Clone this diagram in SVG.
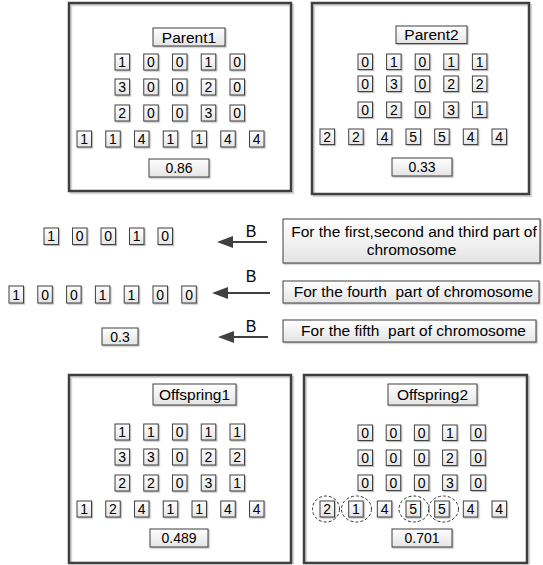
<svg xmlns="http://www.w3.org/2000/svg" width="543" height="565" viewBox="0 0 543 565">
<defs>
<linearGradient id="cg" x1="0" y1="0" x2="0" y2="1"><stop offset="0" stop-color="#ffffff"/><stop offset="1" stop-color="#e4e4e4"/></linearGradient>
<filter id="sh" x="-20%" y="-20%" width="150%" height="150%"><feDropShadow dx="1.2" dy="1.2" stdDeviation="0.5" flood-color="#000" flood-opacity="0.25"/></filter>
<marker id="ah" markerWidth="16" markerHeight="12" refX="8" refY="6" orient="auto" markerUnits="userSpaceOnUse"><path d="M0,0 L16,6 L0,12 z" fill="#404040"/></marker>
</defs>
<style>
.box{fill:none;stroke:#3f3f3f;stroke-width:2.5}
.boxsh{fill:none;stroke:#d6d6d6;stroke-width:2.5}
.cell{fill:url(#cg);stroke:#3f3f3f;stroke-width:1;filter:url(#sh)}
.t{font-family:"Liberation Sans",Arial,sans-serif;fill:#000;text-anchor:middle}
.d{font-size:14px}
.l{font-size:15.5px}
.b{font-size:16px}
.ell{fill:none;stroke:#333;stroke-width:1;stroke-dasharray:3 2}
.con{stroke:#404040;stroke-width:2;fill:none;marker-end:url(#ah)}
</style>
<rect width="543" height="565" fill="#fff"/>

<g id="parent1">
<rect class="boxsh" x="71" y="5" width="222" height="188"/>
<rect class="box" x="69" y="3" width="222" height="188"/>
<rect class="cell" x="153" y="28" width="72" height="18"/><text class="t l" x="189" y="42.5">Parent1</text>
<rect class="cell" x="115" y="54" width="14.5" height="16"/><text class="t d" x="122.25" y="67">1</text>
<rect class="cell" x="143.75" y="54" width="14.5" height="16"/><text class="t d" x="151" y="67">0</text>
<rect class="cell" x="172.5" y="54" width="14.5" height="16"/><text class="t d" x="179.75" y="67">0</text>
<rect class="cell" x="201.25" y="54" width="14.5" height="16"/><text class="t d" x="208.5" y="67">1</text>
<rect class="cell" x="230" y="54" width="14.5" height="16"/><text class="t d" x="237.25" y="67">0</text>
<rect class="cell" x="115" y="79" width="14.5" height="16"/><text class="t d" x="122.25" y="92">3</text>
<rect class="cell" x="143.75" y="79" width="14.5" height="16"/><text class="t d" x="151" y="92">0</text>
<rect class="cell" x="172.5" y="79" width="14.5" height="16"/><text class="t d" x="179.75" y="92">0</text>
<rect class="cell" x="201.25" y="79" width="14.5" height="16"/><text class="t d" x="208.5" y="92">2</text>
<rect class="cell" x="230" y="79" width="14.5" height="16"/><text class="t d" x="237.25" y="92">0</text>
<rect class="cell" x="115" y="105" width="14.5" height="16"/><text class="t d" x="122.25" y="118">2</text>
<rect class="cell" x="143.75" y="105" width="14.5" height="16"/><text class="t d" x="151" y="118">0</text>
<rect class="cell" x="172.5" y="105" width="14.5" height="16"/><text class="t d" x="179.75" y="118">0</text>
<rect class="cell" x="201.25" y="105" width="14.5" height="16"/><text class="t d" x="208.5" y="118">3</text>
<rect class="cell" x="230" y="105" width="14.5" height="16"/><text class="t d" x="237.25" y="118">0</text>
<rect class="cell" x="77" y="131" width="14.5" height="16"/><text class="t d" x="84.25" y="144">1</text>
<rect class="cell" x="105.75" y="131" width="14.5" height="16"/><text class="t d" x="113" y="144">1</text>
<rect class="cell" x="134.5" y="131" width="14.5" height="16"/><text class="t d" x="141.75" y="144">4</text>
<rect class="cell" x="163.25" y="131" width="14.5" height="16"/><text class="t d" x="170.5" y="144">1</text>
<rect class="cell" x="192" y="131" width="14.5" height="16"/><text class="t d" x="199.25" y="144">1</text>
<rect class="cell" x="220.75" y="131" width="14.5" height="16"/><text class="t d" x="228" y="144">4</text>
<rect class="cell" x="249.5" y="131" width="14.5" height="16"/><text class="t d" x="256.75" y="144">4</text>
<rect class="cell" x="149" y="159" width="60" height="18"/><text class="t d" x="179" y="173">0.86</text>
</g>

<g id="parent2">
<rect class="boxsh" x="314" y="5" width="217" height="191"/>
<rect class="box" x="312" y="3" width="217" height="191"/>
<rect class="cell" x="396" y="26" width="71" height="17.5"/><text class="t l" x="431.5" y="40">Parent2</text>
<rect class="cell" x="358" y="54" width="14.5" height="15.5"/><text class="t d" x="365.25" y="67">0</text>
<rect class="cell" x="386.6" y="54" width="14.5" height="15.5"/><text class="t d" x="393.85" y="67">1</text>
<rect class="cell" x="415.2" y="54" width="14.5" height="15.5"/><text class="t d" x="422.45" y="67">0</text>
<rect class="cell" x="443.8" y="54" width="14.5" height="15.5"/><text class="t d" x="451.05" y="67">1</text>
<rect class="cell" x="472.4" y="54" width="14.5" height="15.5"/><text class="t d" x="479.65" y="67">1</text>
<rect class="cell" x="358" y="76" width="14.5" height="15.5"/><text class="t d" x="365.25" y="89">0</text>
<rect class="cell" x="386.6" y="76" width="14.5" height="15.5"/><text class="t d" x="393.85" y="89">3</text>
<rect class="cell" x="415.2" y="76" width="14.5" height="15.5"/><text class="t d" x="422.45" y="89">0</text>
<rect class="cell" x="443.8" y="76" width="14.5" height="15.5"/><text class="t d" x="451.05" y="89">2</text>
<rect class="cell" x="472.4" y="76" width="14.5" height="15.5"/><text class="t d" x="479.65" y="89">2</text>
<rect class="cell" x="358" y="102" width="14.5" height="15.5"/><text class="t d" x="365.25" y="115">0</text>
<rect class="cell" x="386.6" y="102" width="14.5" height="15.5"/><text class="t d" x="393.85" y="115">2</text>
<rect class="cell" x="415.2" y="102" width="14.5" height="15.5"/><text class="t d" x="422.45" y="115">0</text>
<rect class="cell" x="443.8" y="102" width="14.5" height="15.5"/><text class="t d" x="451.05" y="115">3</text>
<rect class="cell" x="472.4" y="102" width="14.5" height="15.5"/><text class="t d" x="479.65" y="115">1</text>
<rect class="cell" x="320" y="129" width="14.5" height="15.5"/><text class="t d" x="327.25" y="142">2</text>
<rect class="cell" x="348.7" y="129" width="14.5" height="15.5"/><text class="t d" x="355.95" y="142">2</text>
<rect class="cell" x="377.3" y="129" width="14.5" height="15.5"/><text class="t d" x="384.55" y="142">4</text>
<rect class="cell" x="406" y="129" width="14.5" height="15.5"/><text class="t d" x="413.25" y="142">5</text>
<rect class="cell" x="434.7" y="129" width="14.5" height="15.5"/><text class="t d" x="441.95" y="142">5</text>
<rect class="cell" x="463.3" y="129" width="14.5" height="15.5"/><text class="t d" x="470.55" y="142">4</text>
<rect class="cell" x="492" y="129" width="14.5" height="15.5"/><text class="t d" x="499.25" y="142">4</text>
<rect class="cell" x="392" y="158" width="60" height="18"/><text class="t d" x="422" y="172">0.33</text>
</g>

<g id="rowA">
<rect class="cell" x="44" y="228" width="14.5" height="16.5"/><text class="t d" x="51.25" y="241">1</text>
<rect class="cell" x="72.5" y="228" width="14.5" height="16.5"/><text class="t d" x="79.75" y="241">0</text>
<rect class="cell" x="101" y="228" width="14.5" height="16.5"/><text class="t d" x="108.25" y="241">0</text>
<rect class="cell" x="129.5" y="228" width="14.5" height="16.5"/><text class="t d" x="136.75" y="241">1</text>
<rect class="cell" x="158" y="228" width="14.5" height="16.5"/><text class="t d" x="165.25" y="241">0</text>
</g>

<g id="rowB">
<rect class="cell" x="9" y="286" width="14.5" height="17"/><text class="t d" x="16.25" y="299.5">1</text>
<rect class="cell" x="37.8" y="286" width="14.5" height="17"/><text class="t d" x="45.05" y="299.5">0</text>
<rect class="cell" x="66.6" y="286" width="14.5" height="17"/><text class="t d" x="73.85" y="299.5">0</text>
<rect class="cell" x="95.4" y="286" width="14.5" height="17"/><text class="t d" x="102.65" y="299.5">1</text>
<rect class="cell" x="124.2" y="286" width="14.5" height="17"/><text class="t d" x="131.45" y="299.5">1</text>
<rect class="cell" x="153" y="286" width="14.5" height="17"/><text class="t d" x="160.25" y="299.5">0</text>
<rect class="cell" x="181.8" y="286" width="14.5" height="17"/><text class="t d" x="189.05" y="299.5">0</text>
</g>

<g id="valueB">
<rect class="cell" x="102" y="328" width="36" height="17"/><text class="t d" x="120" y="341.5">0.3</text>
</g>

<g id="note1">
<rect class="cell" x="283" y="219" width="257" height="44"/>
<text class="t l" x="414" y="236.5">For the first,second and third part of</text>
<text class="t l" x="411.5" y="255">chromosome</text>
</g>
<g id="note2">
<rect class="cell" x="283" y="281" width="256" height="22"/>
<text class="t l" x="413.5" y="296.5" xml:space="preserve">For the fourth  part of chromosome</text>
</g>
<g id="note3">
<rect class="cell" x="283" y="320" width="253" height="22"/>
<text class="t l" x="413.5" y="335.5" xml:space="preserve">For the fifth  part of chromosome</text>
</g>

<g id="connectors">
<line class="con" x1="267" y1="242" x2="225" y2="242"/>
<line class="con" x1="270" y1="293" x2="220" y2="293"/>
<line class="con" x1="268" y1="337" x2="226" y2="337"/>
<text class="t b" x="251" y="237">B</text>
<text class="t b" x="251" y="282">B</text>
<text class="t b" x="251" y="332">B</text>
</g>

<g id="offspring1">
<rect class="boxsh" x="71" y="377" width="222" height="186"/>
<rect class="box" x="69" y="375" width="222" height="188"/>
<rect class="cell" x="153" y="384" width="83" height="21"/><text class="t l" x="194.5" y="400">Offspring1</text>
<rect class="cell" x="115" y="424" width="14.5" height="16"/><text class="t d" x="122.25" y="437">1</text>
<rect class="cell" x="143.75" y="424" width="14.5" height="16"/><text class="t d" x="151" y="437">1</text>
<rect class="cell" x="172.5" y="424" width="14.5" height="16"/><text class="t d" x="179.75" y="437">0</text>
<rect class="cell" x="201.25" y="424" width="14.5" height="16"/><text class="t d" x="208.5" y="437">1</text>
<rect class="cell" x="230" y="424" width="14.5" height="16"/><text class="t d" x="237.25" y="437">1</text>
<rect class="cell" x="115" y="449" width="14.5" height="16"/><text class="t d" x="122.25" y="462">3</text>
<rect class="cell" x="143.75" y="449" width="14.5" height="16"/><text class="t d" x="151" y="462">3</text>
<rect class="cell" x="172.5" y="449" width="14.5" height="16"/><text class="t d" x="179.75" y="462">0</text>
<rect class="cell" x="201.25" y="449" width="14.5" height="16"/><text class="t d" x="208.5" y="462">2</text>
<rect class="cell" x="230" y="449" width="14.5" height="16"/><text class="t d" x="237.25" y="462">2</text>
<rect class="cell" x="115" y="475" width="14.5" height="16"/><text class="t d" x="122.25" y="488">2</text>
<rect class="cell" x="143.75" y="475" width="14.5" height="16"/><text class="t d" x="151" y="488">2</text>
<rect class="cell" x="172.5" y="475" width="14.5" height="16"/><text class="t d" x="179.75" y="488">0</text>
<rect class="cell" x="201.25" y="475" width="14.5" height="16"/><text class="t d" x="208.5" y="488">3</text>
<rect class="cell" x="230" y="475" width="14.5" height="16"/><text class="t d" x="237.25" y="488">1</text>
<rect class="cell" x="77" y="501" width="14.5" height="16"/><text class="t d" x="84.25" y="514">1</text>
<rect class="cell" x="105.75" y="501" width="14.5" height="16"/><text class="t d" x="113" y="514">2</text>
<rect class="cell" x="134.5" y="501" width="14.5" height="16"/><text class="t d" x="141.75" y="514">4</text>
<rect class="cell" x="163.25" y="501" width="14.5" height="16"/><text class="t d" x="170.5" y="514">1</text>
<rect class="cell" x="192" y="501" width="14.5" height="16"/><text class="t d" x="199.25" y="514">1</text>
<rect class="cell" x="220.75" y="501" width="14.5" height="16"/><text class="t d" x="228" y="514">4</text>
<rect class="cell" x="249.5" y="501" width="14.5" height="16"/><text class="t d" x="256.75" y="514">4</text>
<rect class="cell" x="150" y="529" width="58" height="18"/><text class="t d" x="179" y="543">0.489</text>
</g>

<g id="offspring2">
<rect class="boxsh" x="306" y="377" width="223" height="186"/>
<rect class="box" x="304" y="375" width="223" height="188"/>
<rect class="cell" x="388" y="384" width="89" height="21"/><text class="t l" x="432.5" y="400">Offspring2</text>
<rect class="cell" x="358" y="425" width="14.5" height="15.5"/><text class="t d" x="365.25" y="438">0</text>
<rect class="cell" x="386.2" y="425" width="14.5" height="15.5"/><text class="t d" x="393.45" y="438">0</text>
<rect class="cell" x="414.4" y="425" width="14.5" height="15.5"/><text class="t d" x="421.65" y="438">0</text>
<rect class="cell" x="442.6" y="425" width="14.5" height="15.5"/><text class="t d" x="449.85" y="438">1</text>
<rect class="cell" x="470.8" y="425" width="14.5" height="15.5"/><text class="t d" x="478.05" y="438">0</text>
<rect class="cell" x="358" y="450" width="14.5" height="15.5"/><text class="t d" x="365.25" y="463">0</text>
<rect class="cell" x="386.2" y="450" width="14.5" height="15.5"/><text class="t d" x="393.45" y="463">0</text>
<rect class="cell" x="414.4" y="450" width="14.5" height="15.5"/><text class="t d" x="421.65" y="463">0</text>
<rect class="cell" x="442.6" y="450" width="14.5" height="15.5"/><text class="t d" x="449.85" y="463">2</text>
<rect class="cell" x="470.8" y="450" width="14.5" height="15.5"/><text class="t d" x="478.05" y="463">0</text>
<rect class="cell" x="358" y="475" width="14.5" height="15.5"/><text class="t d" x="365.25" y="488">0</text>
<rect class="cell" x="386.2" y="475" width="14.5" height="15.5"/><text class="t d" x="393.45" y="488">0</text>
<rect class="cell" x="414.4" y="475" width="14.5" height="15.5"/><text class="t d" x="421.65" y="488">0</text>
<rect class="cell" x="442.6" y="475" width="14.5" height="15.5"/><text class="t d" x="449.85" y="488">3</text>
<rect class="cell" x="470.8" y="475" width="14.5" height="15.5"/><text class="t d" x="478.05" y="488">0</text>
<rect class="cell" x="320" y="501" width="14.5" height="16"/><text class="t d" x="327.25" y="514">2</text>
<rect class="cell" x="348.7" y="501" width="14.5" height="16"/><text class="t d" x="355.95" y="514">1</text>
<rect class="cell" x="377.3" y="501" width="14.5" height="16"/><text class="t d" x="384.55" y="514">4</text>
<rect class="cell" x="406" y="501" width="14.5" height="16"/><text class="t d" x="413.25" y="514">5</text>
<rect class="cell" x="434.7" y="501" width="14.5" height="16"/><text class="t d" x="441.95" y="514">5</text>
<rect class="cell" x="463.3" y="501" width="14.5" height="16"/><text class="t d" x="470.55" y="514">4</text>
<rect class="cell" x="492" y="501" width="14.5" height="16"/><text class="t d" x="499.25" y="514">4</text>
<ellipse class="ell" cx="326" cy="509" rx="13.5" ry="13"/>
<ellipse class="ell" cx="356.5" cy="509" rx="15" ry="13"/>
<ellipse class="ell" cx="414" cy="509" rx="15" ry="13"/>
<ellipse class="ell" cx="443.5" cy="509" rx="15" ry="13"/>
<rect class="cell" x="392" y="529" width="60" height="18"/><text class="t d" x="422" y="543">0.701</text>
</g>
</svg>
